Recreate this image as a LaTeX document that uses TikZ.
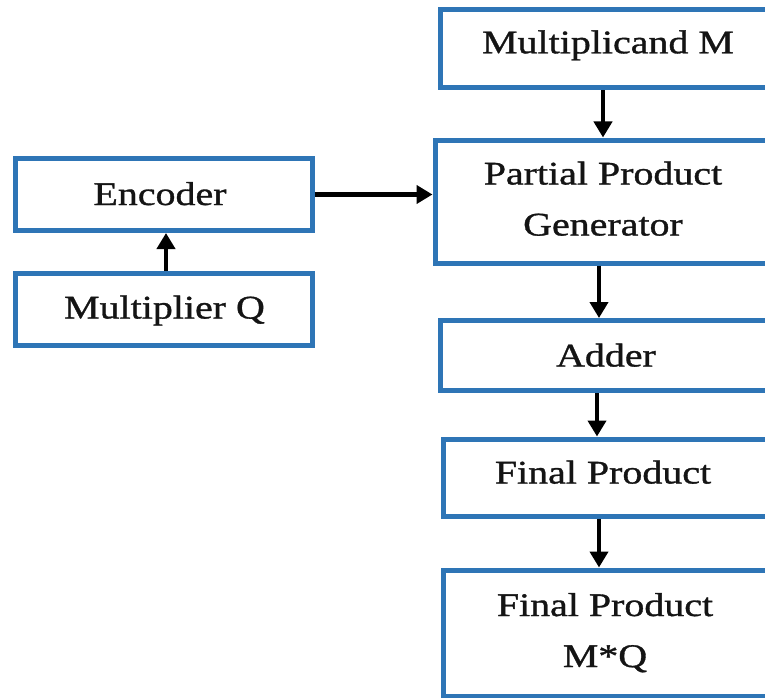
\documentclass[tikz,border=0pt]{standalone}
\usepackage{fontspec}
\setmainfont[FakeStretch=1.21,FakeBold=1]{Liberation Serif}
\usetikzlibrary{arrows.meta}
\definecolor{boxblue}{RGB}{46,117,182}
% centred block of lines whose reference point is the first baseline
\newcommand\lines[1]{\begin{tabular}[t]{@{}c@{}}#1\end{tabular}}
\begin{document}
\begin{tikzpicture}[x=1pt,y=-1pt,
  blk/.style={draw=boxblue, line width=5pt, inner sep=0pt},
  lbl/.style={anchor=base, inner sep=0pt, text=black!92, font=\fontsize{33}{51}\selectfont},
  arr/.style={line width=4.5pt, -{Triangle[width=18pt,length=16pt]}}]
\useasboundingbox (0,0) rectangle (765,698);
\fill[white] (0,0) rectangle (765,698);

% blocks
\node[blk, minimum width=332pt, minimum height=78pt]  (mm)   at (606,49)    {};
\node[blk, minimum width=340pt, minimum height=123pt] (ppg)  at (605,201.5) {};
\node[blk, minimum width=297pt, minimum height=72pt]  (enc)  at (163.5,194.5) {};
\node[blk, minimum width=297pt, minimum height=72pt]  (mq)   at (163.5,309.5) {};
\node[blk, minimum width=332pt, minimum height=70pt]  (add)  at (606,355.5) {};
\node[blk, minimum width=324pt, minimum height=77.5pt] (fp)  at (605,477.75) {};
\node[blk, minimum width=324pt, minimum height=126pt] (fpmq) at (605,633)   {};

% labels
\node[lbl] (mmT)   at (608,53.3)  {\lines{Multiplicand M}};
\node[lbl] (ppgT)  at (603,184.5) {\lines{Partial Product\\Generator}};
\node[lbl] (encT)  at (160,205)   {\lines{Encoder}};
\node[lbl] (mqT)   at (164.5,318.5) {\lines{Multiplier Q}};
\node[lbl] (addT)  at (606,366.5) {\lines{Adder}};
\node[lbl] (fpT)   at (603,483.5) {\lines{Final Product}};
\node[lbl] (fpmqT) at (605,616)   {\lines{Final Product\\M*Q}};

% connectors
\draw[arr] ([xshift=-3pt]mm.south) -- ([xshift=-3pt]mm.south |- ppg.north);
\draw[arr] (enc.east) -- (enc.east -| ppg.west);
\draw[arr] ([xshift=2.5pt]mq.north) -- ([xshift=2.5pt]mq.north |- enc.south);
\draw[arr] ([xshift=-6pt]ppg.south) -- ([xshift=-6pt]ppg.south |- add.north);
\draw[arr] ([xshift=-9pt]add.south) -- ([xshift=-9pt]add.south |- fp.north);
\draw[arr] ([xshift=-6pt]fp.south) -- ([xshift=-6pt]fp.south |- fpmq.north);
\end{tikzpicture}
\end{document}
